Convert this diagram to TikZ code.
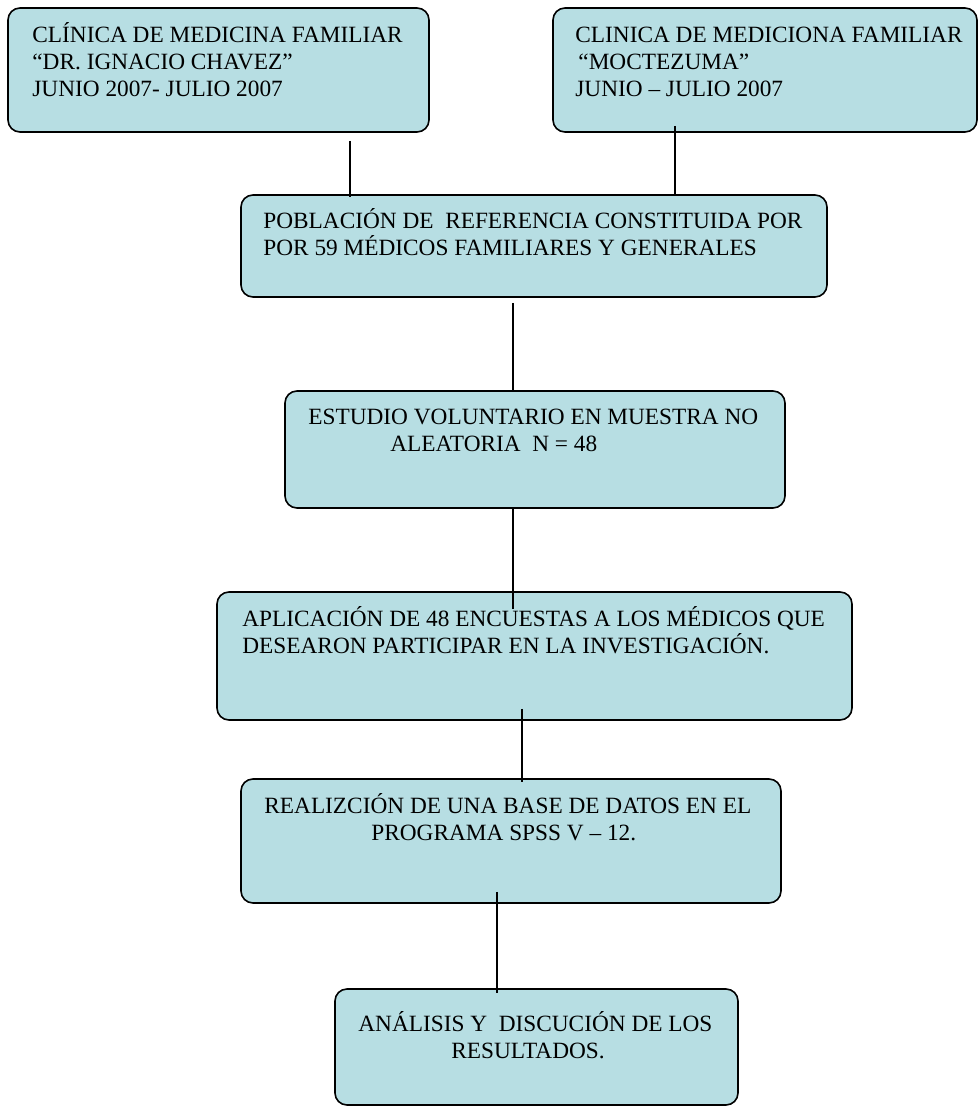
\documentclass[tikz,border=0pt]{standalone}
\usepackage{fontspec}
\setmainfont{Liberation Serif}
\usetikzlibrary{positioning,calc}
\definecolor{cajaazul}{RGB}{183,222,227}
% lines of a box, first baseline is the node baseline
\newcommand{\renglones}[1]{\vtop{\lineskiplimit=-100pt\baselineskip=27pt\halign{##\hfil\cr#1\crcr}}}

\begin{document}
\begin{tikzpicture}[x=1pt,y=-1pt,
    caja/.style={draw, line width=1.6pt, fill=cajaazul, rounded corners=12pt, inner sep=0pt},
    texto/.style={anchor=base west, inner sep=0pt, font=\fontsize{23.3}{27}\selectfont},
    conector/.style={line width=1.3pt}]
    \useasboundingbox (0,0) rectangle (979,1108);

    % boxes
    \node[caja, minimum width=421pt, minimum height=124pt] (clin1) at (218.5,70) {};
    \node[caja, minimum width=424pt, minimum height=124pt] (clin2) at (765,70) {};
    \node[caja, minimum width=586pt, minimum height=102pt] (pob) at (534,246) {};
    \node[caja, minimum width=500pt, minimum height=117pt] (muestra) at (535,449.5) {};
    \node[caja, minimum width=635pt, minimum height=128pt] (encuesta) at (534.5,656) {};
    \node[caja, minimum width=540pt, minimum height=124pt] (base) at (511,841) {};
    \node[caja, minimum width=403pt, minimum height=116pt] (analisis) at (536.5,1047) {};

    % texts
    \node[texto] (clin1txt) at ($(clin1.north west)+(25,35)$)
        {\renglones{CLÍNICA DE MEDICINA FAMILIAR\cr “DR. IGNACIO CHAVEZ”\cr JUNIO 2007- JULIO 2007}};
    \node[texto] (clin2txt) at ($(clin2.north west)+(23,35)$)
        {\renglones{CLINICA DE MEDICIONA FAMILIAR\cr \hskip3pt“MOCTEZUMA”\cr JUNIO – JULIO 2007}};
    \node[texto] (pobtxt) at ($(pob.north west)+(23,34)$)
        {\renglones{POBLACIÓN DE\ \ REFERENCIA CONSTITUIDA POR\cr POR 59 MÉDICOS FAMILIARES Y GENERALES}};
    \node[texto] (muestratxt) at ($(muestra.north west)+(24,34)$)
        {\renglones{ESTUDIO VOLUNTARIO EN MUESTRA NO\cr \hskip82pt ALEATORIA\ \ N = 48}};
    \node[texto] (encuestatxt) at ($(encuesta.north west)+(26,35)$)
        {\renglones{APLICACIÓN DE 48 ENCUESTAS A LOS MÉDICOS QUE\cr DESEARON PARTICIPAR EN LA INVESTIGACIÓN.}};
    \node[texto] (basetxt) at ($(base.north west)+(24,35)$)
        {\renglones{REALIZCIÓN DE UNA BASE DE DATOS EN EL\cr \hskip107pt PROGRAMA SPSS V – 12.}};
    \node[texto] (analisistxt) at ($(analisis.north west)+(24,43)$)
        {\renglones{ANÁLISIS Y\ \ DISCUCIÓN DE LOS\cr \hskip93pt RESULTADOS.}};

    % connectors
    \draw[conector] ([shift={(131.5,8)}]clin1.south) -- ([shift={(-184,3)}]pob.north);
    \draw[conector] ([shift={(-90,-7)}]clin2.south) -- ([shift={(141,2)}]pob.north);
    \draw[conector] ([shift={(-21,5)}]pob.south) -- ([shift={(-22,0)}]muestra.north);
    \draw[conector] ([shift={(-22,0)}]muestra.south) -- ([shift={(-21.5,18)}]encuesta.north);
    \draw[conector] ([shift={(-12.5,-12)}]encuesta.south) -- ([shift={(11,4)}]base.north);
    \draw[conector] ([shift={(-14,-12)}]base.south) -- ([shift={(-39.5,5)}]analisis.north);
\end{tikzpicture}
\end{document}
